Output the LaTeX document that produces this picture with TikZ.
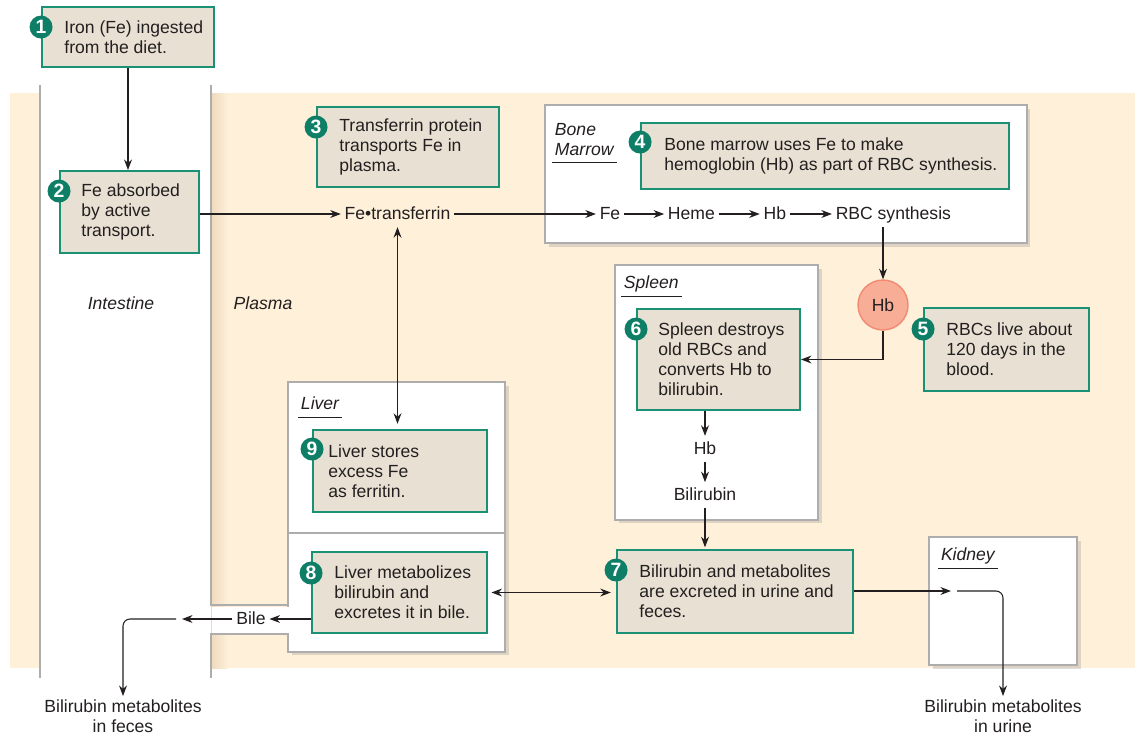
\documentclass[tikz,border=0pt]{standalone}
\usepackage{fontspec}
\setmainfont{Liberation Sans}
\usetikzlibrary{positioning,arrows.meta,shadows}

\definecolor{peach}{HTML}{FEF0D9}
\definecolor{peachdark}{HTML}{EED9BC}
\definecolor{stepgreen}{HTML}{1A9175}
\definecolor{badgegreen}{HTML}{0E7F66}
\definecolor{stepfill}{HTML}{E8E1D3}
\definecolor{organgray}{HTML}{ADADAD}
\definecolor{hbfill}{HTML}{F8AD96}
\definecolor{hbdraw}{HTML}{F28A72}
\definecolor{ink}{HTML}{231F20}

\newcommand\diagfont{\fontsize{10}{11.4}\selectfont}

\begin{document}
\begin{tikzpicture}[x=0.02cm, y=-0.02cm, font=\diagfont, text=ink,
    stepframe/.style={draw=stepgreen, line width=1.1pt, fill=stepfill, inner sep=0pt},
    steptext/.style={anchor=west, align=left, inner sep=0pt},
    badge/.style={circle, fill=badgegreen, text=white, font=\fontsize{11}{11}\selectfont\bfseries, minimum size=0.46cm, inner sep=0pt},
    organ/.style={draw=organgray, line width=1.2pt, fill=white, inner sep=0pt,
        drop shadow={opacity=0.25, shadow xshift=2pt, shadow yshift=-2pt}},
    organlabel/.style={font=\diagfont\itshape, align=left, inner sep=1.5pt, text depth=0.25em, anchor=north west},
    wall/.style={draw=organgray, line width=1.2pt},
    word/.style={inner sep=2pt, text height=1.6ex, text depth=0.4ex},
    flow/.style={-{Stealth[length=6pt,width=4.5pt]}, line width=0.6pt, draw=ink},
    twoway/.style={{Stealth[length=6pt,width=4.5pt]}-{Stealth[length=6pt,width=4.5pt]}, line width=0.6pt, draw=ink}]

        \useasboundingbox (0,0) rectangle (1135,734);

        % Plasma background and intestine column
        \fill[peach] (10,93) rectangle (1135,668);
        \fill[white] (40,93) rectangle (211,668);
        \shade[left color=peachdark, right color=peach] (211,93) rectangle (228,668);

        % Draw the organs
        \node[organ, minimum width=9.64cm, minimum height=2.76cm] (marrow) at (786,174) {};
        \node[organ, minimum width=4.06cm, minimum height=5.1cm] (spleen) at (716.5,392.5) {};
        \node[organ, minimum width=4.34cm, minimum height=5.4cm] (liver) at (396.5,517) {};
        \node[organ, minimum width=2.96cm, minimum height=2.56cm] (kidney) at (1003,601) {};
        \draw[wall] (288,533) -- (505,533);

        % Bile channel through the intestine wall
        \fill[white] (212,606.5) rectangle (290,632.5);
        \draw[wall] (40,85) -- (40,678);
        \draw[wall] (211,85) -- (211,605) -- (288,605);
        \draw[wall] (288,634) -- (211,634) -- (211,678);

        % Organ labels
        \node[organlabel] (marrowlab) at (552,120) {Bone\\Marrow};
        \node[organlabel] (spleenlab) at (621,273) {Spleen};
        \node[organlabel] (liverlab) at (298,394) {Liver};
        \node[organlabel] (kidneylab) at (938,545) {Kidney};
        \foreach \lab in {marrowlab,spleenlab,liverlab,kidneylab}
            \draw[ink, line width=0.6pt] (\lab.south west) -- (\lab.south east);

        \node[font=\diagfont\itshape] (intestine) at (121,303) {Intestine};
        \node[font=\diagfont\itshape] (plasma) at (263,303) {Plasma};

        % Draw the numbered steps
        \node[stepframe, minimum width=3.44cm, minimum height=1.2cm] (b1) at (128,37) {};
        \node[steptext] (t1) at ([xshift=0.46cm]b1.west) {Iron (Fe) ingested\\from the diet.};
        \node[badge] (n1) at ([yshift=-0.42cm]b1.north west) {1};

        \node[stepframe, minimum width=2.78cm, minimum height=1.64cm] (b2) at (129.5,212) {};
        \node[steptext] (t2) at ([xshift=0.44cm]b2.west) {Fe absorbed\\by active\\transport.};
        \node[badge] (n2) at ([yshift=-0.42cm]b2.north west) {2};

        \node[stepframe, minimum width=3.64cm, minimum height=1.6cm] (b3) at (408,147) {};
        \node[steptext] (t3) at ([xshift=0.46cm]b3.west) {Transferrin protein\\transports Fe in\\plasma.};
        \node[badge] (n3) at ([yshift=-0.42cm]b3.north west) {3};

        \node[stepframe, minimum width=7.36cm, minimum height=1.32cm] (b4) at (825,156) {};
        \node[steptext] (t4) at ([xshift=0.48cm]b4.west) {Bone marrow uses Fe to make\\hemoglobin (Hb) as part of RBC synthesis.};
        \node[badge] (n4) at ([yshift=-0.4cm]b4.north west) {4};

        \node[stepframe, minimum width=3.3cm, minimum height=1.66cm] (b5) at (1006.5,349.5) {};
        \node[steptext] (t5) at ([xshift=0.46cm]b5.west) {RBCs live about\\120 days in the\\blood.};
        \node[badge] (n5) at ([yshift=-0.44cm]b5.north west) {5};

        \node[stepframe, minimum width=3.26cm, minimum height=2.02cm] (b6) at (718.5,359.5) {};
        \node[steptext] (t6) at ([xshift=0.44cm]b6.west) {Spleen destroys\\old RBCs and\\converts Hb to\\bilirubin.};
        \node[badge] (n6) at ([yshift=-0.42cm]b6.north west) {6};

        \node[stepframe, minimum width=4.72cm, minimum height=1.66cm] (b7) at (735,591.5) {};
        \node[steptext] (t7) at ([xshift=0.46cm]b7.west) {Bilirubin and metabolites\\are excreted in urine and\\feces.};
        \node[badge] (n7) at ([yshift=-0.42cm]b7.north west) {7};

        \node[stepframe, minimum width=3.5cm, minimum height=1.62cm] (b8) at (399.5,592.5) {};
        \node[steptext] (t8) at ([xshift=0.46cm]b8.west) {Liver metabolizes\\bilirubin and\\excretes it in bile.};
        \node[badge] (n8) at ([yshift=-0.44cm]b8.north west) {8};

        \node[stepframe, minimum width=3.48cm, minimum height=1.64cm] (b9) at (400,471) {};
        \node[steptext] (t9) at ([xshift=0.32cm]b9.west) {Liver stores\\excess Fe\\as ferritin.};
        \node[badge] (n9) at ([yshift=-0.4cm]b9.north west) {9};

        % Substances along the way
        \node[word] (ft) at (397.5,214) {Fe•transferrin};
        \node[word] (fe) at (610,214) {Fe};
        \node[word, right=0.8cm of fe] (heme) {Heme};
        \node[word, right=0.82cm of heme] (hb) {Hb};
        \node[word, right=0.84cm of hb] (rbc) {RBC synthesis};
        \node[circle, draw=hbdraw, fill=hbfill, line width=0.8pt, minimum size=1cm, inner sep=0pt] (hbc) at (883,305) {Hb};
        \node[word] (hbs) at (705,449) {Hb};
        \node[word, below=0.4cm of hbs] (bili) {Bilirubin};
        \node[word] (bile) at (251,619) {Bile};
        \node[align=center, anchor=north, inner sep=2pt] (feces) at (123,696) {Bilirubin metabolites\\in feces};
        \node[align=center, anchor=north, inner sep=2pt] (urine) at (1003,696) {Bilirubin metabolites\\in urine};
        \coordinate (bilel) at (182,619);
        \coordinate (biler) at (176,619);
        \coordinate (kin) at (951,591);
        \coordinate (kout) at (957,591);

        % Connect the steps with arrows
        \draw[flow] (b1.south) -- (b1.south |- b2.north);
        \draw[flow] (b2.east |- ft) -- (ft.west);
        \draw[flow] (ft.east) -- (fe.west);
        \draw[flow] (fe) -- (heme);
        \draw[flow] (heme) -- (hb);
        \draw[flow] (hb) -- (rbc);
        \draw[flow] (hbc |- rbc.south) -- (hbc);
        \draw[flow] (hbc) |- (b6.east);
        \draw[flow] (hbs |- b6.south) -- (hbs.north);
        \draw[flow] (hbs) -- (bili);
        \draw[flow, shorten >=1pt] (bili.south) -- (bili |- b7.north);
        \draw[twoway, shorten >=3pt] (ft.south) -- (ft.south |- b9.north);
        \draw[twoway, shorten <=2pt, shorten >=3pt] (b8.east) -- (b8.east -| b7.west);
        \draw[flow] (b8.west |- bile) -- (bile.east);
        \draw[flow] (bile.west) -- (bilel);
        \draw[flow, rounded corners=4pt] (biler) -| (feces.north);
        \draw[flow] (b7.east |- kin) -- (kin);
        \draw[flow, rounded corners=4pt] (kout) -| (urine.north);

    \end{tikzpicture}
\end{document}
